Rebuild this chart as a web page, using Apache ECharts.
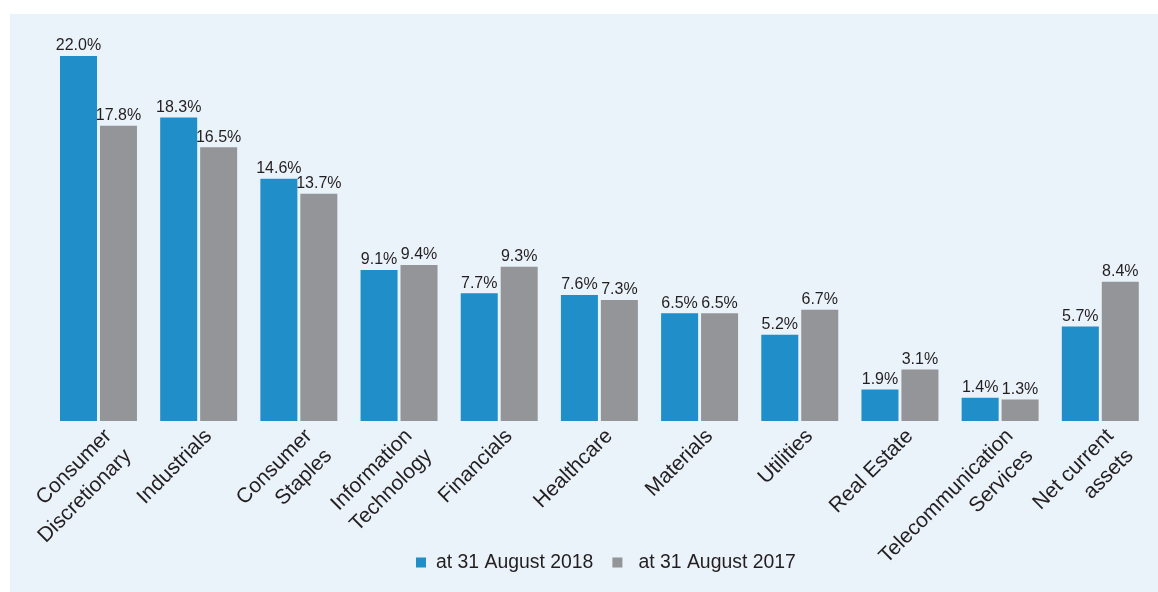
<!DOCTYPE html>
<html>
<head>
<meta charset="utf-8">
<script src="https://cdn.jsdelivr.net/npm/echarts@6/dist/echarts.min.js"></script>
<style>
html,body{margin:0;padding:0;background:#ffffff;}
#chart{width:1158px;height:592px;}
</style>
</head>
<body>
<div id="chart"></div>
<script>
var categories = ["Consumer\nDiscretionary", "Industrials", "Consumer\nStaples", "Information\nTechnology", "Financials", "Healthcare", "Materials", "Utilities", "Real Estate", "Telecommunication\nServices", "Net current\nassets"];
var seriesNames = ["at 31 August 2018", "at 31 August 2017"];
var values2018 = [22.0, 18.3, 14.6, 9.1, 7.7, 7.6, 6.5, 5.2, 1.9, 1.4, 5.7];
var values2017 = [17.8, 16.5, 13.7, 9.4, 9.3, 7.3, 6.5, 6.7, 3.1, 1.3, 8.4];

var FONT = "'Liberation Sans', Arial, Helvetica, sans-serif";
var TEXT = '#231f20';
var chart = echarts.init(document.getElementById('chart'), null, {renderer: 'canvas'});

function labelCfg() {
  return {
    show: true, position: 'top', distance: 2,
    color: TEXT, fontFamily: FONT, fontSize: 16,
    formatter: function (p) { return p.value.toFixed(1) + '%'; }
  };
}

chart.setOption({
  backgroundColor: '#ffffff',
  animation: false,
  graphic: [{
    type: 'rect', z: -10, silent: true,
    shape: {x: 10, y: 14, width: 1148, height: 578},
    style: {fill: '#eaf2fa'}
  }],
  textStyle: {fontFamily: FONT},
  grid: {left: 48.4, right: 7.6, top: 56, bottom: 171, containLabel: false},
  legend: {
    top: 553, left: 416,
    padding: 0,
    itemWidth: 10, itemHeight: 10, itemGap: 19,
    icon: 'rect',
    textStyle: {color: TEXT, fontFamily: FONT, fontSize: 19.4},
    data: [
      {name: seriesNames[0], textStyle: {padding: [0, 0, 0, 5]}},
      {name: seriesNames[1], textStyle: {padding: [0, 0, 0, 11]}}
    ]
  },
  xAxis: {
    type: 'category',
    data: categories,
    axisLine: {show: false},
    axisTick: {show: false},
    axisLabel: {
      interval: 0, rotate: 45, margin: 2,
      align: 'right', verticalAlign: 'top',
      color: TEXT, fontFamily: FONT, fontSize: 21, lineHeight: 28
    }
  },
  yAxis: {
    type: 'value', min: 0, max: 22,
    show: false,
    splitLine: {show: false}
  },
  series: [
    {
      name: seriesNames[0], type: 'bar', data: values2018,
      barWidth: 37, barGap: '8%',
      itemStyle: {color: '#208ec9'},
      label: labelCfg()
    },
    {
      name: seriesNames[1], type: 'bar', data: values2017,
      barWidth: 37, barGap: '8%',
      itemStyle: {color: '#949598'},
      label: labelCfg()
    }
  ]
});
</script>
</body>
</html>
